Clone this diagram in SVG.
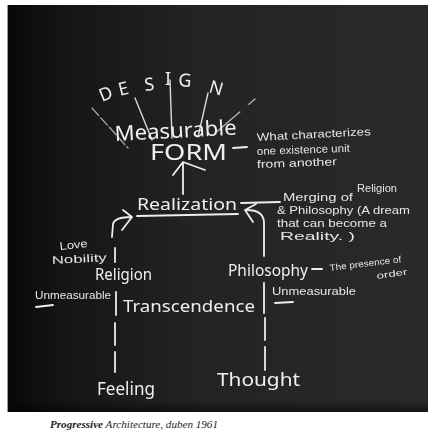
<svg xmlns="http://www.w3.org/2000/svg" width="429" height="435" viewBox="0 0 429 435">
<defs>
<linearGradient id="board" x1="0" y1="0" x2="1" y2="0">
<stop offset="0" stop-color="#080808"/>
<stop offset="0.15" stop-color="#161616"/>
<stop offset="0.45" stop-color="#232323"/>
<stop offset="1" stop-color="#2a2a2a"/>
</linearGradient>
<linearGradient id="bottom" x1="0" y1="0" x2="0" y2="1">
<stop offset="0" stop-color="#000" stop-opacity="0"/>
<stop offset="1" stop-color="#000" stop-opacity="0.5"/>
</linearGradient>
<filter id="chalk" x="-5%" y="-5%" width="110%" height="110%">
<feGaussianBlur stdDeviation="0.35"/>
</filter>
</defs>
<style>
.t{fill:#efefef;font-family:"Noto Sans","DejaVu Sans",sans-serif;}
.s{fill:#e6e6e6;font-family:"Liberation Sans","DejaVu Sans",sans-serif;}
.ln{stroke:#ededed;stroke-width:1.8;fill:none;stroke-linecap:round;stroke-linejoin:round;}
.ray{stroke:#d8d8d8;stroke-width:1.4;fill:none;stroke-linecap:round;}
.cap{fill:#1e1e1e;font-family:"Liberation Serif","DejaVu Serif",serif;font-style:italic;font-size:10px;}
</style>
<rect x="0" y="0" width="429" height="435" fill="#ffffff"/>
<rect x="7" y="5" width="421" height="407" fill="url(#board)"/>
<rect x="7" y="400" width="421" height="12" fill="url(#bottom)"/>
<line x1="7.5" y1="5" x2="7.5" y2="412" stroke="#9a9a9a" stroke-width="1"/>

<g filter="url(#chalk)">
<g id="connectors">
<line class="ray" x1="92" y1="108" x2="128" y2="148" stroke-dasharray="10 3" opacity="0.7"/>
<line class="ray" x1="135" y1="98" x2="152" y2="140"/>
<line class="ray" x1="170" y1="80" x2="172" y2="138"/>
<line class="ray" x1="208" y1="93" x2="198" y2="137"/>
<line class="ray" x1="255" y1="99" x2="213" y2="135" stroke-dasharray="8 12 30" opacity="0.8"/>
<line class="ln" x1="233" y1="148" x2="247" y2="147"/>
<path class="ln" d="M183,194 L183,163 M173,175 L183,162 L205,170"/>
<line class="ln" x1="137" y1="216" x2="238" y2="214"/>
<line class="ln" x1="241" y1="203" x2="280" y2="202"/>
<path class="ln" d="M264,256 L264,222 Q263,210 247,210 M256,204 L245,210 L253,222"/>
<path class="ln" d="M112,237 L113,224 Q115,217 131,217 M123,210 L132,217 L122,230"/>
<line class="ln" x1="115" y1="248" x2="115" y2="262"/>
<line class="ln" x1="116" y1="292" x2="116" y2="315"/>
<line class="ln" x1="115" y1="323" x2="115" y2="345"/>
<line class="ln" x1="115" y1="352" x2="115" y2="372"/>
<line class="ln" x1="264" y1="283" x2="264" y2="313"/>
<line class="ln" x1="265" y1="318" x2="265" y2="340"/>
<line class="ln" x1="265" y1="347" x2="265" y2="370"/>
<line class="ln" x1="312" y1="269" x2="322" y2="269"/>
<line class="ln" x1="36" y1="307" x2="53" y2="305" stroke-width="1.3"/>
<line class="ln" x1="275" y1="303" x2="293" y2="302" stroke-width="1.3"/>
</g>

<g id="design">
<text class="t" font-size="18" x="102 120 145 165 178 208" y="102 96 91 85 86 92" rotate="-22 -14 -6 0 4 16">DESIGN</text>
</g>
<g id="measurable">
<text class="t" font-size="21" x="115" y="141" textLength="122" lengthAdjust="spacingAndGlyphs" transform="rotate(-3 115 141)">Measurable</text>
</g>
<g id="form">
<text class="t" font-size="22" x="150" y="160" textLength="77" lengthAdjust="spacingAndGlyphs">FORM</text>
</g>
<g id="form-note">
<text class="s" font-size="11" x="257" y="141" textLength="114" lengthAdjust="spacingAndGlyphs" transform="rotate(-3 257 141)">What characterizes</text>
<text class="s" font-size="11" x="257" y="155" textLength="93" lengthAdjust="spacingAndGlyphs" transform="rotate(-2 257 155)">one existence unit</text>
<text class="s" font-size="11" x="257" y="168" textLength="80" lengthAdjust="spacingAndGlyphs" transform="rotate(-2 257 168)">from another</text>
</g>
<g id="realization">
<text class="t" font-size="17" x="137" y="210" textLength="100" lengthAdjust="spacingAndGlyphs">Realization</text>
</g>
<g id="merging-note">
<text class="s" font-size="11" x="283" y="201" textLength="70" lengthAdjust="spacingAndGlyphs">Merging of</text>
<text class="s" font-size="11" x="357" y="192" textLength="40" lengthAdjust="spacingAndGlyphs">Religion</text>
<text class="s" font-size="11" x="277" y="214" textLength="133" lengthAdjust="spacingAndGlyphs">&amp; Philosophy (A dream</text>
<text class="s" font-size="11" x="277" y="227" textLength="110" lengthAdjust="spacingAndGlyphs">that can become a</text>
<text class="s" font-size="11" x="280" y="240" textLength="75" lengthAdjust="spacingAndGlyphs">Reality.  )</text>
</g>
<g id="religion-note">
<text class="s" font-size="11" x="60" y="250" textLength="28" lengthAdjust="spacingAndGlyphs" transform="rotate(-6 60 250)">Love</text>
<text class="s" font-size="11" x="52" y="264" textLength="55" lengthAdjust="spacingAndGlyphs" transform="rotate(-3 52 264)">Nobility</text>
</g>
<g id="religion">
<text class="t" font-size="16" x="95" y="280" textLength="57" lengthAdjust="spacingAndGlyphs">Religion</text>
</g>
<g id="unmeasurable-left">
<text class="s" font-size="10" x="35" y="299" textLength="76" lengthAdjust="spacingAndGlyphs">Unmeasurable</text>
</g>
<g id="transcendence">
<text class="t" font-size="17" x="123" y="312" textLength="132" lengthAdjust="spacingAndGlyphs">Transcendence</text>
</g>
<g id="philosophy">
<text class="t" font-size="17" x="228" y="276" textLength="80" lengthAdjust="spacingAndGlyphs">Philosophy</text>
</g>
<g id="philosophy-note">
<text class="s" font-size="9" x="330" y="271" textLength="72" lengthAdjust="spacingAndGlyphs" transform="rotate(-7 330 271)">The presence of</text>
<text class="s" font-size="9" x="377" y="279" textLength="31" lengthAdjust="spacingAndGlyphs" transform="rotate(-8 377 279)">order</text>
</g>
<g id="unmeasurable-right">
<text class="s" font-size="11" x="272" y="295" textLength="84" lengthAdjust="spacingAndGlyphs">Unmeasurable</text>
</g>
<g id="feeling">
<text class="t" font-size="18" x="97" y="395" textLength="58" lengthAdjust="spacingAndGlyphs">Feeling</text>
</g>
<g id="thought">
<text class="t" font-size="18" x="217" y="386" textLength="83" lengthAdjust="spacingAndGlyphs">Thought</text>
</g>
</g>

<g id="caption">
<text class="cap" x="50" y="428" textLength="168" lengthAdjust="spacingAndGlyphs"><tspan font-weight="bold">Progressive</tspan> Architecture, duben 1961</text>
</g>
</svg>
